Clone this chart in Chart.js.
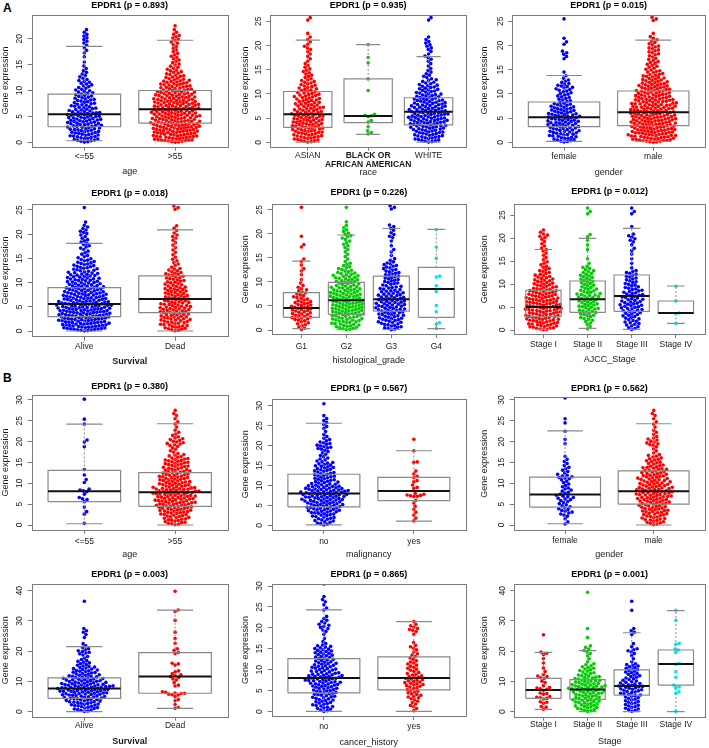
<!DOCTYPE html>
<html>
<head>
<meta charset="utf-8">
<script src="https://cdn.jsdelivr.net/npm/chart.js@4.4.1/dist/chart.umd.min.js"></script>
<style>
  html, body { margin: 0; padding: 0; background: #fff; }
  #fig { position: relative; width: 709px; height: 748px; overflow: hidden;
         font-family: 'Liberation Sans', Arial, sans-serif; }
  #fig canvas { position: absolute; }
  .tag { position: absolute; font-weight: bold; font-size: 12px; line-height: 12px; color: #000; }
</style>
</head>
<body>
<div id="fig">
  <div class="tag" style="left:3px;top:2px">A</div>
  <div class="tag" style="left:3px;top:372px">B</div>
</div>
<script>
// ─── Data ─────────────────────────────────────────────────────────────────────
// Large groups: point counts per 1-unit bin starting at 0 (read off the swarms).
// Small groups: individual values.

const pValuesA = ['0.893', '0.935', '0.015', '0.018', '0.226', '0.012'];
const pValuesB = ['0.380', '0.567', '0.562', '0.003', '0.865', '0.001'];
const xTitlesA = ['age', 'race', 'gender', 'Survival', 'histological_grade', 'AJCC_Stage'];
const xTitlesB = ['age', 'malignancy', 'gender', 'Survival', 'cancer_history', 'Stage'];

const ticks20 = [0, 5, 10, 15, 20];
const ticks25 = [0, 5, 10, 15, 20, 25];
const ticks30 = [0, 5, 10, 15, 20, 25, 30];
const ticks40 = [0, 10, 20, 30, 40];

// box stats: [lower whisker, q1, median, q3, upper whisker]
const a1Groups = ['<=55', '>55'];
const a1HistLe55 = [12, 13, 14, 15, 15, 15, 11, 10, 9, 8, 6, 6, 4, 3, 2, 1, 1, 2, 2, 3, 3, 2];
const a1HistGt55 = [19, 20, 21, 21, 21, 21, 20, 20, 18, 17, 14, 13, 9, 7, 5, 4, 4, 3, 3, 4, 4, 2, 1];
const a1Box = [[0.3, 3.0, 5.4, 9.3, 18.5], [0.2, 3.7, 6.4, 10.0, 19.7]];

const a2Groups = ['ASIAN', ['BLACK OR', 'AFRICAN AMERICAN'], 'WHITE'];
const a2HistAsian = [11, 12, 13, 13, 13, 13, 12, 11, 10, 10, 8, 7, 6, 4, 4, 3, 2, 2, 2, 3, 2, 2, 1, 0, 0, 2];
const a2ValsBlack = [20.2, 17.5, 16.4, 13.1, 10.7, 5.8, 5.6, 5.5, 5.3, 4.5, 4.2, 3.2, 2.4, 2.0, 1.7];
const a2HistWhite = [11, 12, 13, 15, 16, 16, 15, 14, 13, 11, 9, 8, 6, 4, 3, 2, 2, 3, 2, 3, 3, 2, 0, 0, 0, 2];
const a2Box = [[0.05, 3.1, 5.8, 10.5, 21.1], [1.65, 4.05, 5.43, 13.1, 20.2], [0.05, 3.6, 6.3, 9.2, 17.7]];

const a3Groups = ['female', 'male'];
const a3HistFemale = [10, 11, 12, 13, 13, 13, 11, 10, 6, 6, 6, 7, 4, 2, 1, 0, 0, 2, 3, 0, 2, 1, 0, 0, 0, 1];
const a3HistMale = [18, 19, 19, 19, 19, 19, 18, 18, 17, 15, 14, 13, 11, 9, 7, 5, 5, 4, 5, 5, 4, 3, 1, 0, 0, 3];
const a3Box = [[0.2, 3.22, 5.16, 8.33, 13.8], [0.2, 3.44, 6.2, 10.6, 21.1]];

const a4Groups = ['Alive', 'Dead'];
const a4HistAlive = [19, 20, 21, 22, 22, 22, 19, 18, 16, 14, 13, 12, 10, 9, 7, 4, 3, 4, 4, 3, 4, 3, 1, 0, 0, 1];
const a4HistDead = [10, 11, 12, 12, 13, 12, 11, 10, 10, 8, 8, 8, 6, 3, 3, 2, 2, 2, 2, 3, 2, 2, 0, 0, 0, 3];
const a4Box = [[0, 2.96, 5.58, 8.95, 18.1], [0, 3.79, 6.6, 11.4, 20.9]];

const a5Groups = ['G1', 'G2', 'G3', 'G4'];
const a5HistG1 = [4, 5, 8, 8, 9, 8, 6, 5, 4, 2, 1, 1, 2, 1, 2, 0, 0, 2, 0, 1, 0, 0, 0, 0, 0, 1];
const a5HistG2 = [10, 11, 12, 14, 14, 14, 13, 13, 12, 10, 10, 9, 6, 4, 2, 2, 2, 3, 3, 4, 3, 2, 1, 0, 0, 1];
const a5HistG3 = [8, 9, 10, 11, 12, 12, 11, 10, 9, 7, 7, 7, 6, 6, 3, 1, 2, 1, 1, 3, 2, 3, 0, 0, 0, 3];
const a5ValsG4 = [20.9, 17.2, 14.9, 11.2, 11.0, 9.2, 8.0, 5.1, 3.8, 1.5, 1.2, 0.3];
const a5Box = [[0.3, 2.64, 4.57, 7.76, 14.3], [0.1, 3.26, 6.17, 9.9, 19.75], [0.1, 3.94, 6.4, 11.2, 21.1], [0.3, 2.64, 8.5, 13.0, 20.9]];

const a6Groups = ['Stage I', 'Stage II', 'Stage III', 'Stage IV'];
const a6HistS1 = [11, 12, 13, 13, 14, 14, 13, 12, 11, 9, 8, 7, 5, 4, 3, 2, 2, 3, 2, 2, 4, 2];
const a6HistS2 = [2, 3, 5, 7, 8, 8, 8, 9, 7, 6, 6, 6, 5, 4, 1, 1, 0, 1, 1, 1, 2, 0, 0, 0, 0, 2, 1];
const a6HistS3 = [5, 6, 6, 7, 8, 9, 8, 8, 7, 6, 5, 5, 5, 1, 1, 1, 1, 2, 1, 3, 3, 0, 1, 0, 0, 2, 1];
const a6ValsS4 = [9.5, 6.3, 3.7, 3.6, 1.4];
const a6Box = [[0.14, 2.9, 5.0, 8.6, 17.5], [0.36, 3.84, 6.67, 10.65, 19.9], [0.14, 4.07, 7.39, 11.96, 22.1], [1.45, 3.6, 3.7, 6.3, 9.56]];

const b1Groups = ['<=55', '>55'];
const b1ValsLe55 = [30.2, 25.4, 24.2, 20.4, 19.9, 18.8, 13.3, 12.0, 10.9, 10.2, 8.6, 8.4, 8.2, 8.0, 7.4, 6.6, 6.3, 6.1, 5.6, 4.3, 3.2, 2.6, 0.4];
const b1HistGt55 = [8, 9, 10, 12, 13, 14, 14, 15, 15, 12, 11, 11, 10, 9, 9, 9, 6, 3, 3, 6, 5, 3, 2, 1, 2, 1, 2, 1];
const b1Box = [[0.3, 5.6, 8.1, 13.1, 24.2], [0, 4.48, 7.85, 12.56, 24.3]];

const b2Groups = ['no', 'yes'];
const b2HistNo = [6, 7, 8, 11, 12, 13, 14, 15, 16, 13, 9, 8, 8, 7, 7, 6, 4, 3, 3, 6, 5, 3, 2, 1, 2, 2, 2, 1, 0, 0, 1];
const b2ValsYes = [21.6, 18.7, 15.9, 15.8, 13.6, 12.9, 12.3, 12.0, 11.2, 10.9, 10.1, 9.5, 9.3, 8.0, 7.8, 7.6, 7.5, 7.4, 7.3, 7.2, 6.3, 5.6, 4.8, 4.0, 3.3, 2.6, 1.8, 1.1];
const b2Box = [[0.1, 4.6, 8.0, 12.8, 25.6], [1.07, 6.2, 8.6, 12.0, 18.7]];

const b3Groups = ['female', 'male'];
const b3HistFemale = [2, 1, 4, 5, 4, 4, 6, 4, 4, 3, 3, 6, 3, 3, 2, 2, 1, 0, 0, 1, 1, 0, 1, 0, 1, 1, 0, 0, 0, 0, 1];
const b3HistMale = [7, 8, 9, 10, 10, 11, 12, 13, 13, 11, 10, 10, 9, 9, 6, 6, 5, 2, 2, 5, 4, 2, 2, 1, 2, 1, 2, 1];
const b3Box = [[0.3, 4.3, 7.3, 11.5, 22.6], [0, 5.0, 8.1, 13.0, 24.3]];

const b4Groups = ['Alive', 'Dead'];
const b4HistAlive = [6, 7, 8, 9, 10, 11, 13, 14, 14, 11, 10, 9, 7, 7, 6, 4, 4, 2, 2, 4, 3, 2, 1, 0, 1, 1, 2, 1, 0, 0, 0, 0, 0, 0, 0, 0, 1];
const b4ValsDead = [39.8, 33.6, 33.1, 30.2, 26.3, 24.2, 22.6, 20.8, 20.3, 19.6, 19.2, 16.0, 15.8, 15.4, 13.5, 13.2, 12.6, 12.2, 11.9, 11.6, 11.3, 10.8, 10.5, 9.6, 8.8, 8.5, 6.6, 6.4, 6.2, 6.1, 6.0, 5.8, 5.6, 5.5, 5.0, 4.0, 3.6, 2.4, 1.4, 1.1];
const b4Box = [[0, 4.4, 7.7, 11.2, 21.5], [1.1, 6.1, 11.6, 19.5, 33.6]];

const b5Groups = ['no', 'yes'];
const b5HistNo = [6, 7, 7, 8, 9, 9, 11, 12, 12, 9, 9, 8, 7, 7, 7, 6, 2, 1, 1, 3, 4, 3, 2, 0, 2, 1, 2, 1, 0, 0, 1];
const b5HistYes = [2, 3, 3, 5, 5, 5, 7, 7, 6, 4, 4, 4, 3, 3, 2, 3, 1, 0, 1, 4, 3, 1];
const b5Box = [[0.1, 4.5, 8.05, 12.65, 24.3], [0.1, 5.2, 8.05, 13.1, 21.5]];

const b6Groups = ['Stage I', 'Stage II', 'Stage III', 'Stage IV'];
const b6ValsS1 = [25.4, 19.7, 19.3, 18.9, 17.6, 16.1, 14.4, 13.3, 12.3, 11.8, 11.6, 11.2, 11.0, 10.1, 9.6, 8.6, 8.0, 7.8, 7.6, 7.3, 7.1, 6.2, 6.0, 5.8, 5.0, 4.8, 4.6, 4.4, 4.2, 3.3, 3.1, 2.8, 1.7, 1.5, 0.8];
const b6HistS2 = [5, 6, 6, 7, 7, 7, 8, 9, 9, 7, 7, 6, 4, 4, 4, 3, 1, 1, 1, 2, 2, 2, 0, 0, 1, 0, 0, 1, 0, 0, 0, 0, 0, 0, 0, 0, 0, 0, 0, 1];
const b6HistS3 = [4, 4, 4, 4, 4, 5, 5, 6, 7, 5, 4, 4, 4, 4, 4, 4, 1, 1, 1, 2, 3, 1, 1, 0, 0, 1, 2, 1, 0, 0, 0, 0, 0, 1, 0, 0, 1];
const b6ValsS4 = [33.5, 30.2, 22.6, 22.3, 20.8, 20.4, 19.6, 15.9, 15.7, 13.2, 11.4, 8.8, 8.2, 7.9, 6.6, 6.1, 0.1];
const b6Box = [[0.8, 4.4, 7.2, 11.0, 19.6], [0, 4.1, 7.3, 10.6, 20.2], [0, 5.5, 8.5, 13.8, 26.1], [0, 8.8, 15.8, 20.4, 33.4]];

// ─── Style ────────────────────────────────────────────────────────────────────
const RED = '#ff0000', BLUE = '#0000ff', GREEN = '#00cd00', CYAN = '#00e5ee';
const BOX_GRAY = '#8a8a8a', FRAME_GRAY = '#7a7a7a', TEXT = '#1a1a1a';
const PT_R = 1.8, SPACING = 3.45, BOX_W = 0.8, TICK_LEN = 4;
const FONT = "'Liberation Sans', Arial, Helvetica, sans-serif";
Chart.defaults.font.family = FONT;
Chart.defaults.color = TEXT;

// spread the counts of a bin evenly inside that bin
function spreadBins(counts) {
  const out = [];
  counts.forEach((n, k) => { for (let i = 0; i < n; i++) out.push(k + (i + 0.5) / n); });
  return out;
}

// panel geometry in page pixels: canvas rect, plot frame [l,t,r,b], text centres, y calibration
const panels = [
  { title: pValuesA[0], xTitle: xTitlesA[0], groups: a1Groups, series: [spreadBins(a1HistLe55), spreadBins(a1HistGt55)], colors: [BLUE, RED], box: a1Box, yTicks: ticks20,
    rect: [0, 0, 236, 185], frame: [31.7, 14.5, 227.7, 146.7], titleY: 4.7, tickY: 157.7, xTitleY: 172, yTitleX: 5, zeroY: 142.3, pxu: 5.18 },
  { title: pValuesA[1], xTitle: xTitlesA[1], groups: a2Groups, series: [spreadBins(a2HistAsian), a2ValsBlack, spreadBins(a2HistWhite)], colors: [RED, GREEN, BLUE], box: a2Box, yTicks: ticks25,
    rect: [236, 0, 234, 185], frame: [270.3, 14.5, 467, 146.7], titleY: 4.7, tickY: 156, xTitleY: 172.7, yTitleX: 245.3, zeroY: 142.3, pxu: 4.84 },
  { title: pValuesA[2], xTitle: xTitlesA[2], groups: a3Groups, series: [spreadBins(a3HistFemale), spreadBins(a3HistMale)], colors: [BLUE, RED], box: a3Box, yTicks: ticks25,
    rect: [470, 0, 239, 185], frame: [512.3, 14.5, 707.7, 146.7], titleY: 4.7, tickY: 157.7, xTitleY: 172.3, yTitleX: 485, zeroY: 142.3, pxu: 4.84 },
  { title: pValuesA[3], xTitle: xTitlesA[3], groups: a4Groups, series: [spreadBins(a4HistAlive), spreadBins(a4HistDead)], colors: [BLUE, RED], box: a4Box, yTicks: ticks25,
    rect: [0, 185, 236, 185], frame: [31.7, 204.3, 227.7, 336.7], titleY: 194, tickY: 347.3, xTitleY: 361.7, yTitleX: 5, zeroY: 331, pxu: 4.84 },
  { title: pValuesA[4], xTitle: xTitlesA[4], groups: a5Groups, series: [spreadBins(a5HistG1), spreadBins(a5HistG2), spreadBins(a5HistG3), a5ValsG4], colors: [RED, GREEN, BLUE, CYAN], box: a5Box, yTicks: ticks25,
    rect: [236, 185, 234, 185], frame: [271.7, 204.3, 468.3, 334], titleY: 192.3, tickY: 347.3, xTitleY: 360.7, yTitleX: 245.3, zeroY: 330, pxu: 4.81 },
  { title: pValuesA[5], xTitle: xTitlesA[5], groups: a6Groups, series: [spreadBins(a6HistS1), spreadBins(a6HistS2), spreadBins(a6HistS3), a6ValsS4], colors: [RED, GREEN, BLUE, CYAN], box: a6Box, yTicks: ticks25,
    rect: [470, 185, 239, 185], frame: [514.3, 204.3, 707, 334], titleY: 191.7, tickY: 345.7, xTitleY: 360, yTitleX: 485, zeroY: 330, pxu: 4.6 },
  { title: pValuesB[0], xTitle: xTitlesB[0], groups: b1Groups, series: [b1ValsLe55, spreadBins(b1HistGt55)], colors: [BLUE, RED], box: b1Box, yTicks: ticks30,
    rect: [0, 370, 236, 190], frame: [31.7, 395, 227.7, 530], titleY: 386.7, tickY: 542.7, xTitleY: 556.7, yTitleX: 5, zeroY: 525, pxu: 4.167 },
  { title: pValuesB[1], xTitle: xTitlesB[1], groups: b2Groups, series: [spreadBins(b2HistNo), b2ValsYes], colors: [BLUE, RED], box: b2Box, yTicks: ticks30,
    rect: [236, 370, 234, 190], frame: [271.7, 398.7, 467, 530], titleY: 388.3, tickY: 542.3, xTitleY: 555, yTitleX: 246, zeroY: 525.3, pxu: 3.987 },
  { title: pValuesB[2], xTitle: xTitlesB[2], groups: b3Groups, series: [spreadBins(b3HistFemale), spreadBins(b3HistMale)], colors: [BLUE, RED], box: b3Box, yTicks: ticks30,
    rect: [470, 370, 239, 190], frame: [513.7, 397.3, 707, 530], titleY: 388.3, tickY: 541.7, xTitleY: 555.7, yTitleX: 485, zeroY: 525, pxu: 4.167 },
  { title: pValuesB[3], xTitle: xTitlesB[3], groups: b4Groups, series: [spreadBins(b4HistAlive), b4ValsDead], colors: [BLUE, RED], box: b4Box, yTicks: ticks40,
    rect: [0, 560, 236, 188], frame: [31.7, 584, 227.7, 716.7], titleY: 574.7, tickY: 726.7, xTitleY: 741.7, yTitleX: 5, zeroY: 711.7, pxu: 3.025 },
  { title: pValuesB[4], xTitle: xTitlesB[4], groups: b5Groups, series: [spreadBins(b5HistNo), spreadBins(b5HistYes)], colors: [BLUE, RED], box: b5Box, yTicks: ticks30,
    rect: [236, 560, 234, 188], frame: [271.7, 584, 467, 716], titleY: 574.7, tickY: 727.3, xTitleY: 742.7, yTitleX: 245.3, zeroY: 711.7, pxu: 4.19 },
  { title: pValuesB[5], xTitle: xTitlesB[5], groups: b6Groups, series: [b6ValsS1, spreadBins(b6HistS2), spreadBins(b6HistS3), b6ValsS4], colors: [RED, GREEN, BLUE, CYAN], box: b6Box, yTicks: ticks40,
    rect: [470, 560, 239, 188], frame: [514.3, 584, 707, 716.7], titleY: 574.7, tickY: 725.3, xTitleY: 741.7, yTitleX: 485, zeroY: 711.7, pxu: 3.025 },
];

// ─── Helpers ──────────────────────────────────────────────────────────────────
// greedy beeswarm (pixel space): each point goes as close to the centre as it can
function swarm(pys, d) {
  const placed = [], out = [];
  pys.forEach(py => {
    const near = placed.filter(p => Math.abs(p.y - py) < d);
    const cands = [0];
    near.forEach(p => {
      const h = Math.sqrt(d * d - (p.y - py) * (p.y - py));
      cands.push(p.x + h, p.x - h);
    });
    cands.sort((a, b) => Math.abs(a) - Math.abs(b));
    let best = cands[cands.length - 1];
    for (const c of cands) {
      if (near.every(p => (c - p.x) ** 2 + (py - p.y) ** 2 >= d * d - 1e-6)) { best = c; break; }
    }
    placed.push({ x: best, y: py });
    out.push(best);
  });
  return out;
}

function boxLines(box) {
  const rect = [], med = [], whisk = [], caps = [];
  box.forEach((b, i) => {
    const x = i + 1, h = BOX_W / 2, c = BOX_W / 4;
    const [lo, q1, md, q3, hi] = b;
    rect.push({ x: x - h, y: q1 }, { x: x + h, y: q1 }, { x: x + h, y: q3 }, { x: x - h, y: q3 }, { x: x - h, y: q1 }, { x, y: null });
    med.push({ x: x - h, y: md }, { x: x + h, y: md }, { x, y: null });
    whisk.push({ x, y: q3 }, { x, y: hi }, { x, y: null }, { x, y: q1 }, { x, y: lo }, { x, y: null });
    caps.push({ x: x - c, y: hi }, { x: x + c, y: hi }, { x, y: null }, { x: x - c, y: lo }, { x: x + c, y: lo }, { x, y: null });
  });
  return { rect, med, whisk, caps };
}

const framePlugin = {
  id: 'frame',
  afterDraw(chart) {
    const { ctx, chartArea: a } = chart;
    ctx.save();
    ctx.strokeStyle = FRAME_GRAY;
    ctx.lineWidth = 1;
    ctx.strokeRect(Math.round(a.left) + 0.5, Math.round(a.top) + 0.5, Math.round(a.right - a.left), Math.round(a.bottom - a.top));
    ctx.restore();
  }
};

// ─── Build ────────────────────────────────────────────────────────────────────
const fig = document.getElementById('fig');

panels.forEach(p => {
  const [cx, cy, cw, ch] = p.rect;
  const [fl, ft, fr, fb] = p.frame;
  const n = p.groups.length;
  const lh = 1.2, titleFs = 9, axFs = 9, tickFs = 8.5;

  const cv = document.createElement('canvas');
  cv.width = cw; cv.height = ch;
  cv.style.left = cx + 'px'; cv.style.top = cy + 'px';
  fig.appendChild(cv);

  const tPadTop = Math.max(0, p.titleY - cy - titleFs * lh / 2);
  const tPadBot = Math.max(0, (ft - cy) - titleFs * lh - tPadTop);
  const xPadBot = Math.max(0, (cy + ch) - p.xTitleY - axFs * lh / 2);
  const yPadTop = Math.max(0, p.yTitleX - cx - axFs * lh / 2);
  const xTickPad = p.tickY - fb - TICK_LEN - tickFs * lh / 2;

  const lines = boxLines(p.box);
  const datasets = [
    { data: lines.med, showLine: true, borderColor: '#111', borderWidth: 2, pointRadius: 0, order: 0 },
    { data: lines.rect, showLine: true, borderColor: BOX_GRAY, borderWidth: 1.2, pointRadius: 0, order: 1 },
    { data: lines.caps, showLine: true, borderColor: BOX_GRAY, borderWidth: 1.2, pointRadius: 0, order: 1 },
    { data: lines.whisk, showLine: true, borderColor: BOX_GRAY, borderWidth: 1, borderDash: [2, 2], pointRadius: 0, order: 1 },
  ];
  const ptStart = datasets.length;
  p.series.forEach((vals, gi) => {
    datasets.push({
      data: vals.map(v => ({ x: gi + 1, y: v })),
      pointRadius: PT_R, pointBorderWidth: 0, borderWidth: 0,
      pointBackgroundColor: p.colors[gi], backgroundColor: p.colors[gi], order: 2
    });
  });

  const chart = new Chart(cv, {
    type: 'scatter',
    data: { datasets },
    plugins: [framePlugin],
    options: {
      responsive: false, animation: false, events: [], devicePixelRatio: 1,
      layout: { padding: { left: 0, top: 0, bottom: 0, right: cx + cw - fr } },
      plugins: {
        legend: { display: false },
        tooltip: { enabled: false },
        title: {
          display: true, text: 'EPDR1 (p = ' + p.title + ')', fullSize: false, color: '#000',
          font: { size: titleFs, weight: 'bold', lineHeight: lh },
          padding: { top: tPadTop, bottom: tPadBot }
        }
      },
      scales: {
        x: {
          type: 'linear', position: 'bottom',
          min: 0.5 - 0.04 * n, max: n + 0.5 + 0.04 * n,
          afterFit: s => { s.height = cy + ch - fb; },
          afterBuildTicks: s => { s.ticks = p.groups.map((g, i) => ({ value: i + 1 })); },
          ticks: {
            padding: xTickPad, color: TEXT, autoSkip: false, maxRotation: 0,
            font: ctx => ({ size: tickFs, lineHeight: 1.05, weight: Array.isArray(p.groups[ctx.index]) ? 'bold' : 'normal' }),
            callback: (v, i) => p.groups[i]
          },
          grid: { display: true, drawOnChartArea: false, drawTicks: true, tickLength: TICK_LEN, tickColor: FRAME_GRAY },
          border: { display: false },
          title: {
            display: true, text: p.xTitle, color: TEXT,
            font: { size: axFs, lineHeight: lh, weight: p.xTitle === 'Survival' ? 'bold' : 'normal' },
            padding: { top: 0, bottom: xPadBot }
          }
        },
        y: {
          type: 'linear', position: 'left',
          min: (p.zeroY - fb) / p.pxu, max: (p.zeroY - ft) / p.pxu,
          afterFit: s => { s.width = fl - cx; },
          afterBuildTicks: s => { s.ticks = p.yTicks.map(v => ({ value: v })); },
          ticks: {
            padding: 3, color: TEXT, minRotation: 90, maxRotation: 90, crossAlign: 'center',
            font: { size: tickFs }, callback: v => String(v)
          },
          grid: { display: true, drawOnChartArea: false, drawTicks: true, tickLength: TICK_LEN, tickColor: FRAME_GRAY },
          border: { display: false },
          title: {
            display: true, text: 'Gene expression', color: TEXT,
            font: { size: axFs, lineHeight: lh },
            padding: { top: yPadTop, bottom: 0 }
          }
        }
      }
    }
  });

  // lay the points out as a swarm using the chart's own scales
  const xs = chart.scales.x, ys = chart.scales.y;
  const pxPerX = xs.getPixelForValue(1) - xs.getPixelForValue(0);
  p.series.forEach((vals, gi) => {
    const sorted = vals.slice().sort((a, b) => a - b);
    const offs = swarm(sorted.map(v => ys.getPixelForValue(v)), SPACING);
    chart.data.datasets[ptStart + gi].data = sorted.map((v, k) => ({ x: gi + 1 + offs[k] / pxPerX, y: v }));
  });
  chart.update('none');
});
</script>
</body>
</html>
